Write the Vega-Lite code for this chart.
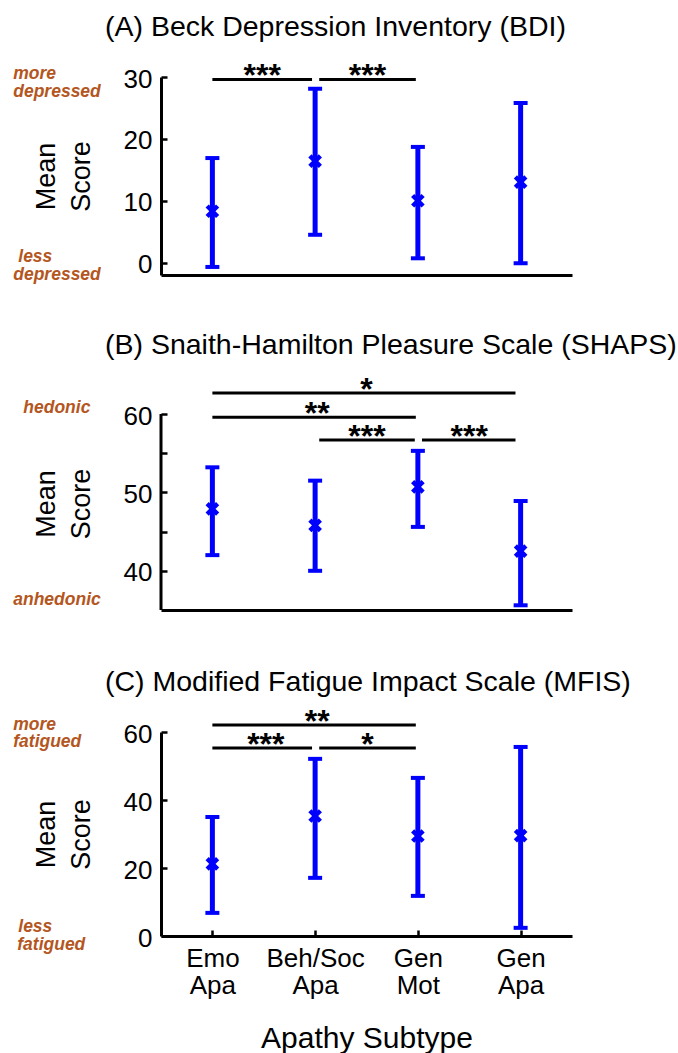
{
  "$schema": "https://vega.github.io/schema/vega-lite/v6.json",
  "padding": {"left": 13, "top": 12, "right": 2, "bottom": 0},
  "bounds": "flush",
  "spacing": 122,
  "datasets": {
    "bars": [
      {"panel": "A", "x": 1, "mean": 8.3, "lo": -0.7, "hi": 16.9},
      {"panel": "A", "x": 2, "mean": 16.4, "lo": 4.5, "hi": 28.1},
      {"panel": "A", "x": 3, "mean": 10.0, "lo": 0.7, "hi": 18.7},
      {"panel": "A", "x": 4, "mean": 13.0, "lo": -0.1, "hi": 25.8},
      {"panel": "B", "x": 1, "mean": 47.9, "lo": 42.0, "hi": 53.2},
      {"panel": "B", "x": 2, "mean": 45.8, "lo": 40.0, "hi": 51.5},
      {"panel": "B", "x": 3, "mean": 50.7, "lo": 45.6, "hi": 55.3},
      {"panel": "B", "x": 4, "mean": 42.5, "lo": 35.6, "hi": 48.9},
      {"panel": "C", "x": 1, "mean": 21.2, "lo": 6.8, "hi": 35.0},
      {"panel": "C", "x": 2, "mean": 35.3, "lo": 17.1, "hi": 52.1},
      {"panel": "C", "x": 3, "mean": 29.4, "lo": 11.8, "hi": 46.5},
      {"panel": "C", "x": 4, "mean": 29.5, "lo": 2.4, "hi": 55.6}
    ],
    "sig": [
      {"panel": "A", "x1": 1, "x2": 1.97, "xm": 1.485, "y": 29.6, "t": "***"},
      {"panel": "A", "x1": 2.04, "x2": 2.98, "xm": 2.51, "y": 29.6, "t": "***"},
      {"panel": "B", "x1": 1, "x2": 3.95, "xm": 2.5, "y": 62.68, "t": "*"},
      {"panel": "B", "x1": 1, "x2": 2.98, "xm": 2.02, "y": 59.6, "t": "**"},
      {"panel": "B", "x1": 2.04, "x2": 2.97, "xm": 2.505, "y": 56.7, "t": "***"},
      {"panel": "B", "x1": 3.04, "x2": 3.95, "xm": 3.5, "y": 56.7, "t": "***"},
      {"panel": "C", "x1": 1, "x2": 2.98, "xm": 2.02, "y": 62.06, "t": "**"},
      {"panel": "C", "x1": 1, "x2": 1.97, "xm": 1.52, "y": 55.3, "t": "***"},
      {"panel": "C", "x1": 2.04, "x2": 2.98, "xm": 2.51, "y": 55.3, "t": "*"}
    ],
    "ann": [
      {"panel": "A", "x": -0.938, "y": 29.67, "t": "more"},
      {"panel": "A", "x": -0.938, "y": 26.76, "t": "depressed"},
      {"panel": "A", "x": -0.889, "y": 0.1, "t": "less"},
      {"panel": "A", "x": -0.938, "y": -2.81, "t": "depressed"},
      {"panel": "B", "x": -0.84, "y": 60.13, "t": "hedonic"},
      {"panel": "B", "x": -0.938, "y": 35.64, "t": "anhedonic"},
      {"panel": "C", "x": -0.938, "y": 60.6, "t": "more"},
      {"panel": "C", "x": -0.938, "y": 55.6, "t": "fatigued"},
      {"panel": "C", "x": -0.889, "y": 1.18, "t": "less"},
      {"panel": "C", "x": -0.899, "y": -4.12, "t": "fatigued"}
    ],
    "frame": [
      {"panel": "B", "x": 0.5, "y": 35, "y2": 60}
    ]
  },
  "vconcat": [
    {
      "width": 411,
      "height": 198,
      "title": {"text": "(A) Beck Depression Inventory (BDI)", "anchor": "start", "frame": "group", "dx": -56, "offset": 19},
      "layer": [
        {
          "data": {"name": "bars"},
          "transform": [{"filter": "datum.panel == 'A'"}],
          "mark": {"type": "rule", "color": "#0000ff", "strokeWidth": 5},
          "encoding": {
            "x": {"field": "x", "type": "quantitative", "scale": {"domain": [0.5, 4.5], "nice": false, "zero": false}, "axis": {"title": null, "labels": false, "ticks": false}},
            "y": {"field": "lo", "type": "quantitative", "scale": {"domain": [-2, 30], "nice": false, "zero": false}, "axis": {"title": ["Mean", "Score"], "values": [0, 10, 20, 30]}},
            "y2": {"field": "hi"}
          }
        },
        {
          "data": {"name": "bars"},
          "transform": [{"filter": "datum.panel == 'A'"}],
          "mark": {"type": "tick", "orient": "horizontal", "size": 14, "thickness": 4, "color": "#0000ff", "opacity": 1},
          "encoding": {"x": {"field": "x", "type": "quantitative"}, "y": {"field": "lo", "type": "quantitative"}}
        },
        {
          "data": {"name": "bars"},
          "transform": [{"filter": "datum.panel == 'A'"}],
          "mark": {"type": "tick", "orient": "horizontal", "size": 14, "thickness": 4, "color": "#0000ff", "opacity": 1},
          "encoding": {"x": {"field": "x", "type": "quantitative"}, "y": {"field": "hi", "type": "quantitative"}}
        },
        {
          "data": {"name": "bars"},
          "transform": [{"filter": "datum.panel == 'A'"}],
          "mark": {"type": "point", "shape": "M-1,-1L1,1M-1,1L1,-1", "size": 110, "strokeWidth": 4.5, "color": "#0000ff", "filled": false, "opacity": 1},
          "encoding": {"x": {"field": "x", "type": "quantitative"}, "y": {"field": "mean", "type": "quantitative"}}
        },
        {
          "data": {"name": "sig"},
          "transform": [{"filter": "datum.panel == 'A'"}],
          "mark": {"type": "rule", "color": "black", "strokeWidth": 3},
          "encoding": {"x": {"field": "x1", "type": "quantitative"}, "x2": {"field": "x2"}, "y": {"field": "y", "type": "quantitative"}}
        },
        {
          "data": {"name": "sig"},
          "transform": [{"filter": "datum.panel == 'A'"}],
          "mark": {"type": "text", "fontSize": 32, "fontWeight": "bold", "baseline": "alphabetic", "dy": 7, "color": "black"},
          "encoding": {"x": {"field": "xm", "type": "quantitative"}, "y": {"field": "y", "type": "quantitative"}, "text": {"field": "t"}}
        },
        {
          "data": {"name": "ann"},
          "transform": [{"filter": "datum.panel == 'A'"}],
          "mark": {"type": "text", "fontSize": 17.5, "fontWeight": "bold", "fontStyle": "italic", "align": "left", "baseline": "alphabetic", "color": "#b4561e"},
          "encoding": {"x": {"field": "x", "type": "quantitative"}, "y": {"field": "y", "type": "quantitative"}, "text": {"field": "t"}}
        }
      ]
    },
    {
      "width": 411,
      "height": 213,
      "title": {"text": "(B) Snaith-Hamilton Pleasure Scale (SHAPS)", "anchor": "start", "frame": "group", "dx": -56, "offset": 14.5},
      "layer": [
        {
          "data": {"name": "bars"},
          "transform": [{"filter": "datum.panel == 'B'"}],
          "mark": {"type": "rule", "color": "#0000ff", "strokeWidth": 5},
          "encoding": {
            "x": {"field": "x", "type": "quantitative", "scale": {"domain": [0.5, 4.5], "nice": false, "zero": false}, "axis": {"title": null, "labels": false, "ticks": false}},
            "y": {"field": "lo", "type": "quantitative", "scale": {"domain": [35, 62.17], "nice": false, "zero": false}, "axis": {"title": ["Mean", "Score"], "values": [40, 45, 50, 55, 60], "labelExpr": "datum.value % 10 == 0 ? datum.label : ''", "domain": false}},
            "y2": {"field": "hi"}
          }
        },
        {
          "data": {"name": "frame"},
          "mark": {"type": "rule", "color": "black", "strokeWidth": 3},
          "encoding": {"x": {"field": "x", "type": "quantitative"}, "y": {"field": "y", "type": "quantitative"}, "y2": {"field": "y2"}}
        },
        {
          "data": {"name": "bars"},
          "transform": [{"filter": "datum.panel == 'B'"}],
          "mark": {"type": "tick", "orient": "horizontal", "size": 14, "thickness": 4, "color": "#0000ff", "opacity": 1},
          "encoding": {"x": {"field": "x", "type": "quantitative"}, "y": {"field": "lo", "type": "quantitative"}}
        },
        {
          "data": {"name": "bars"},
          "transform": [{"filter": "datum.panel == 'B'"}],
          "mark": {"type": "tick", "orient": "horizontal", "size": 14, "thickness": 4, "color": "#0000ff", "opacity": 1},
          "encoding": {"x": {"field": "x", "type": "quantitative"}, "y": {"field": "hi", "type": "quantitative"}}
        },
        {
          "data": {"name": "bars"},
          "transform": [{"filter": "datum.panel == 'B'"}],
          "mark": {"type": "point", "shape": "M-1,-1L1,1M-1,1L1,-1", "size": 110, "strokeWidth": 4.5, "color": "#0000ff", "filled": false, "opacity": 1},
          "encoding": {"x": {"field": "x", "type": "quantitative"}, "y": {"field": "mean", "type": "quantitative"}}
        },
        {
          "data": {"name": "sig"},
          "transform": [{"filter": "datum.panel == 'B'"}],
          "mark": {"type": "rule", "color": "black", "strokeWidth": 3},
          "encoding": {"x": {"field": "x1", "type": "quantitative"}, "x2": {"field": "x2"}, "y": {"field": "y", "type": "quantitative"}}
        },
        {
          "data": {"name": "sig"},
          "transform": [{"filter": "datum.panel == 'B'"}],
          "mark": {"type": "text", "fontSize": 32, "fontWeight": "bold", "baseline": "alphabetic", "dy": 7, "color": "black"},
          "encoding": {"x": {"field": "xm", "type": "quantitative"}, "y": {"field": "y", "type": "quantitative"}, "text": {"field": "t"}}
        },
        {
          "data": {"name": "ann"},
          "transform": [{"filter": "datum.panel == 'B'"}],
          "mark": {"type": "text", "fontSize": 17.5, "fontWeight": "bold", "fontStyle": "italic", "align": "left", "baseline": "alphabetic", "color": "#b4561e"},
          "encoding": {"x": {"field": "x", "type": "quantitative"}, "y": {"field": "y", "type": "quantitative"}, "text": {"field": "t"}}
        }
      ]
    },
    {
      "width": 411,
      "height": 204,
      "title": {"text": "(C) Modified Fatigue Impact Scale (MFIS)", "anchor": "start", "frame": "group", "dx": -56, "offset": 9},
      "layer": [
        {
          "data": {"name": "bars"},
          "transform": [{"filter": "datum.panel == 'C'"}],
          "mark": {"type": "rule", "color": "#0000ff", "strokeWidth": 5},
          "encoding": {
            "x": {"field": "x", "type": "quantitative", "scale": {"domain": [0.5, 4.5], "nice": false, "zero": false}, "axis": {"title": "Apathy Subtype", "values": [1, 2, 3, 4], "labelExpr": "datum.value == 1 ? ['Emo', 'Apa'] : datum.value == 2 ? ['Beh/Soc', 'Apa'] : datum.value == 3 ? ['Gen', 'Mot'] : ['Gen', 'Apa']"}},
            "y": {"field": "lo", "type": "quantitative", "scale": {"domain": [0, 60], "nice": false, "zero": false}, "axis": {"title": ["Mean", "Score"], "values": [0, 10, 20, 30, 40, 50, 60], "labelExpr": "datum.value % 20 == 0 ? datum.label : ''"}},
            "y2": {"field": "hi"}
          }
        },
        {
          "data": {"name": "bars"},
          "transform": [{"filter": "datum.panel == 'C'"}],
          "mark": {"type": "tick", "orient": "horizontal", "size": 14, "thickness": 4, "color": "#0000ff", "opacity": 1},
          "encoding": {"x": {"field": "x", "type": "quantitative"}, "y": {"field": "lo", "type": "quantitative"}}
        },
        {
          "data": {"name": "bars"},
          "transform": [{"filter": "datum.panel == 'C'"}],
          "mark": {"type": "tick", "orient": "horizontal", "size": 14, "thickness": 4, "color": "#0000ff", "opacity": 1},
          "encoding": {"x": {"field": "x", "type": "quantitative"}, "y": {"field": "hi", "type": "quantitative"}}
        },
        {
          "data": {"name": "bars"},
          "transform": [{"filter": "datum.panel == 'C'"}],
          "mark": {"type": "point", "shape": "M-1,-1L1,1M-1,1L1,-1", "size": 110, "strokeWidth": 4.5, "color": "#0000ff", "filled": false, "opacity": 1},
          "encoding": {"x": {"field": "x", "type": "quantitative"}, "y": {"field": "mean", "type": "quantitative"}}
        },
        {
          "data": {"name": "sig"},
          "transform": [{"filter": "datum.panel == 'C'"}],
          "mark": {"type": "rule", "color": "black", "strokeWidth": 3},
          "encoding": {"x": {"field": "x1", "type": "quantitative"}, "x2": {"field": "x2"}, "y": {"field": "y", "type": "quantitative"}}
        },
        {
          "data": {"name": "sig"},
          "transform": [{"filter": "datum.panel == 'C'"}],
          "mark": {"type": "text", "fontSize": 32, "fontWeight": "bold", "baseline": "alphabetic", "dy": 7, "color": "black"},
          "encoding": {"x": {"field": "xm", "type": "quantitative"}, "y": {"field": "y", "type": "quantitative"}, "text": {"field": "t"}}
        },
        {
          "data": {"name": "ann"},
          "transform": [{"filter": "datum.panel == 'C'"}],
          "mark": {"type": "text", "fontSize": 17.5, "fontWeight": "bold", "fontStyle": "italic", "align": "left", "baseline": "alphabetic", "color": "#b4561e"},
          "encoding": {"x": {"field": "x", "type": "quantitative"}, "y": {"field": "y", "type": "quantitative"}, "text": {"field": "t"}}
        }
      ]
    }
  ],
  "config": {
    "font": "Liberation Sans",
    "view": {"stroke": null},
    "title": {"fontSize": 28.5, "fontWeight": "normal", "color": "black", "font": "Liberation Sans"},
    "axis": {
      "grid": false,
      "domainColor": "black",
      "domainWidth": 3,
      "tickColor": "black",
      "tickWidth": 2.5,
      "labelColor": "black",
      "titleColor": "black",
      "labelFont": "Liberation Sans",
      "titleFont": "Liberation Sans",
      "labelFontSize": 26,
      "titleFontSize": 27,
      "titleFontWeight": "normal"
    },
    "axisY": {"tickSize": -6, "labelPadding": 15, "labelOffset": 2, "titlePadding": 28, "titleLineHeight": 35},
    "axisX": {"tickSize": -6, "labelPadding": 15, "labelLineHeight": 27, "titleFontSize": 30, "titlePadding": 25}
  }
}
